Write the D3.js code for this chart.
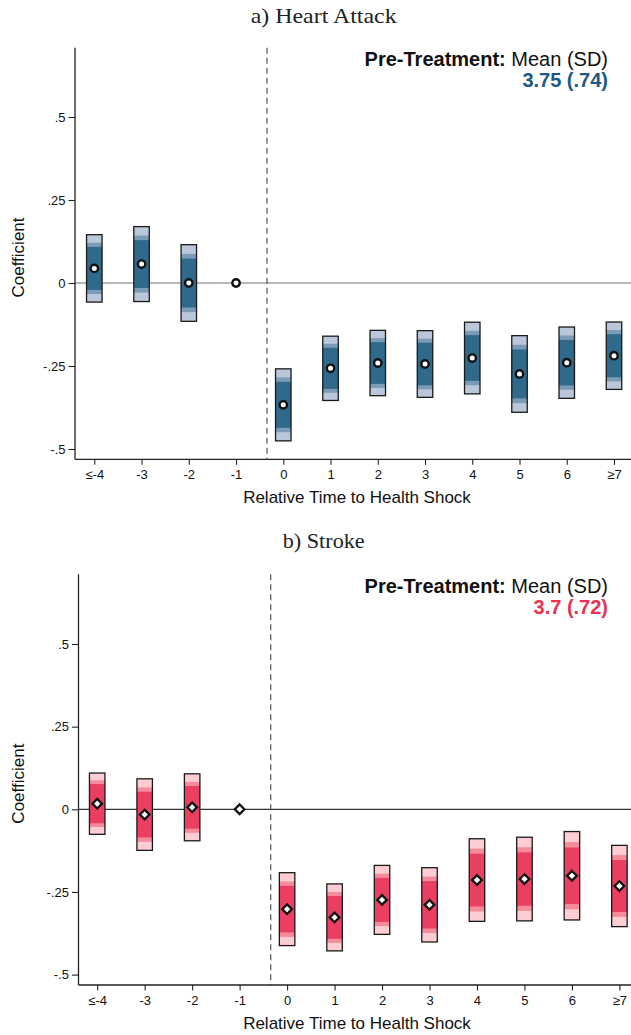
<!DOCTYPE html>
<html><head><meta charset="utf-8">
<script src="https://cdn.jsdelivr.net/npm/d3@7"></script>
<style>
html,body{margin:0;padding:0;background:#fff;}
svg{display:block;}
</style></head>
<body>
<svg id="chart" width="631" height="1035"></svg>
<script>
// ---- Data ----
const periods = [-4, -3, -2, -1, 0, 1, 2, 3, 4, 5, 6, 7];
const periodLabels = ["≤-4", "-3", "-2", "-1", "0", "1", "2", "3", "4", "5", "6", "≥7"];
const yTicks = [0.5, 0.25, 0, -0.25, -0.5];
const yTickLabels = [".5", ".25", "0", "-.25", "-.5"];

// Heart attack: point estimates and standard errors (null se = reference period)
const heartEst = [0.044, 0.057, 0.000, 0, -0.367, -0.257, -0.241, -0.244, -0.226, -0.274, -0.240, -0.219];
const heartSE  = [0.0394, 0.0438, 0.0448, null, 0.0421, 0.0376, 0.0382, 0.0390, 0.0419, 0.0448, 0.0417, 0.0394];

// Stroke: point estimates and standard errors
const strokeEst = [0.017, -0.016, 0.006, 0, -0.302, -0.327, -0.274, -0.289, -0.214, -0.211, -0.201, -0.232];
const strokeSE  = [0.0360, 0.0420, 0.0393, null, 0.0428, 0.0393, 0.0405, 0.0436, 0.0485, 0.0491, 0.0519, 0.0477];

// confidence levels drawn as nested bands (z values: 99%, 95%, 90%)
const ciZ = [2.576, 1.96, 1.645];

const panels = [
  {title: "a) Heart Attack", titleLen: 146, est: heartEst, se: heartSE, marker: "circle",
   meanSD: "3.75 (.74)", meanColor: "#1b5a87",
   bandColors: ["#bac7da", "#7c9bb6", "#2f6a8c"], zeroColor: "#707070",
   titleY: 23, axisX: 75, axisTop: 47.7, axisBottom: 459.3,
   xRange: [94.3, 614.0], yRange: [117, 449], vlineX: -0.345},
  {title: "b) Stroke", titleLen: 82, est: strokeEst, se: strokeSE, marker: "diamond",
   meanSD: "3.7 (.72)", meanColor: "#e8324f",
   bandColors: ["#fdcdd3", "#f68b9b", "#ea3f60"], zeroColor: "#333333",
   titleY: 548, axisX: 78.5, axisTop: 574.3, axisBottom: 985,
   xRange: [97.2, 619.4], yRange: [644, 974.6], vlineX: -0.345}
];

const svg = d3.select("#chart");
const W = 631;
const sans = "'Liberation Sans', Arial, sans-serif";
const serif = "'Liberation Serif', 'Times New Roman', serif";

panels.forEach(p => {
  const g = svg.append("g");
  const x = d3.scaleLinear().domain([-4, 7]).range(p.xRange);
  const y = d3.scaleLinear().domain([0.5, -0.5]).range(p.yRange);

  // title
  g.append("text").attr("x", 323.7).attr("y", p.titleY)
    .attr("text-anchor", "middle").attr("font-family", serif)
    .attr("font-size", 21).attr("fill", "#222")
    .attr("textLength", p.titleLen).attr("lengthAdjust", "spacingAndGlyphs")
    .text(p.title);

  // zero line
  g.append("line").attr("x1", p.axisX).attr("x2", W)
    .attr("y1", y(0)).attr("y2", y(0))
    .attr("stroke", p.zeroColor).attr("stroke-width", 1.2);

  // dashed treatment line
  g.append("line").attr("x1", x(p.vlineX)).attr("x2", x(p.vlineX))
    .attr("y1", p.axisTop).attr("y2", p.axisBottom)
    .attr("stroke", "#555").attr("stroke-width", 1.2)
    .attr("stroke-dasharray", "6,4");

  // y axis
  const yAxis = d3.axisLeft(y).tickValues(yTicks)
    .tickFormat((d, i) => yTickLabels[i]).tickSize(6.5).tickPadding(3);
  const ya = g.append("g").attr("transform", `translate(${p.axisX},0)`).call(yAxis);
  ya.select(".domain").remove();
  ya.append("line").attr("x1", 0).attr("x2", 0).attr("y1", p.axisTop).attr("y2", p.axisBottom)
    .attr("stroke", "#222").attr("stroke-width", 1.3);
  ya.selectAll(".tick line").attr("stroke", "#222").attr("stroke-width", 1.1);
  ya.selectAll(".tick text").attr("font-family", sans).attr("font-size", 13).attr("fill", "#111");

  // x axis
  const xAxis = d3.axisBottom(x).tickValues(periods)
    .tickFormat((d, i) => periodLabels[i]).tickSize(5.5).tickPadding(5);
  const xa = g.append("g").attr("transform", `translate(0,${p.axisBottom})`).call(xAxis);
  xa.select(".domain").remove();
  xa.append("line").attr("x1", p.axisX).attr("x2", W).attr("y1", 0).attr("y2", 0)
    .attr("stroke", "#222").attr("stroke-width", 1.3);
  xa.selectAll(".tick line").attr("stroke", "#222").attr("stroke-width", 1.1);
  xa.selectAll(".tick text").attr("font-family", sans).attr("font-size", 13).attr("fill", "#111");

  // axis titles
  g.append("text").attr("x", 357).attr("y", p.axisBottom + 43.5)
    .attr("text-anchor", "middle").attr("font-family", sans).attr("font-size", 17)
    .attr("fill", "#111").text("Relative Time to Health Shock");
  const yMid = (p.axisTop + p.axisBottom) / 2 + 4;
  g.append("text").attr("transform", `translate(24,${yMid}) rotate(-90)`)
    .attr("text-anchor", "middle").attr("font-family", sans).attr("font-size", 17)
    .attr("fill", "#111").text("Coefficient");

  // legend text
  const lg = g.append("text").attr("x", 608).attr("y", p.axisTop + 18.5)
    .attr("text-anchor", "end").attr("font-family", sans).attr("font-size", 20).attr("fill", "#111");
  lg.append("tspan").attr("font-weight", "bold").text("Pre-Treatment:");
  lg.append("tspan").text(" Mean (SD)");
  g.append("text").attr("x", 608).attr("y", p.axisTop + 39.5)
    .attr("text-anchor", "end").attr("font-family", sans).attr("font-size", 20)
    .attr("font-weight", "bold").attr("fill", p.meanColor).text(p.meanSD);

  // bars
  const bw = 15.5;
  const data = periods.map((t, i) => ({t, est: p.est[i], se: p.se[i]}));
  const withCI = data.filter(d => d.se !== null);
  ciZ.forEach((z, k) => {
    g.selectAll(null).data(withCI).enter().append("rect")
      .attr("x", d => x(d.t) - bw / 2).attr("width", bw)
      .attr("y", d => y(d.est + z * d.se))
      .attr("height", d => y(d.est - z * d.se) - y(d.est + z * d.se))
      .attr("fill", p.bandColors[k]);
  });
  g.selectAll(null).data(withCI).enter().append("rect")
    .attr("x", d => x(d.t) - bw / 2).attr("width", bw)
    .attr("y", d => y(d.est + ciZ[0] * d.se))
    .attr("height", d => y(d.est - ciZ[0] * d.se) - y(d.est + ciZ[0] * d.se))
    .attr("fill", "none").attr("stroke", "#1a1a1a").attr("stroke-width", 1.3);

  // markers
  if (p.marker === "circle") {
    g.selectAll(null).data(data).enter().append("circle")
      .attr("cx", d => x(d.t)).attr("cy", d => y(d.est)).attr("r", 3.7)
      .attr("fill", "#fff").attr("stroke", "#111").attr("stroke-width", 2.4);
  } else {
    const s = 4.8;
    g.selectAll(null).data(data).enter().append("path")
      .attr("d", d => {
        const cx = x(d.t), cy = y(d.est);
        return `M${cx},${cy - s}L${cx + s},${cy}L${cx},${cy + s}L${cx - s},${cy}Z`;
      })
      .attr("fill", "#fff").attr("stroke", "#111").attr("stroke-width", 2.3);
  }
});
</script>
</body></html>
